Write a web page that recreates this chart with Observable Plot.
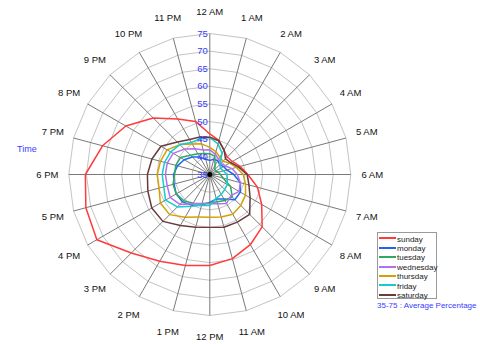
<!DOCTYPE html>
<html><head><meta charset="utf-8">
<script src="https://cdn.jsdelivr.net/npm/d3@7"></script>
<script src="https://cdn.jsdelivr.net/npm/@observablehq/plot@0.6"></script>
<style>
body{margin:0;background:#fff;font-family:"Liberation Sans",Arial,sans-serif}
#wrap{position:relative;width:480px;height:344px;overflow:hidden}
#wrap svg{position:absolute;left:0;top:0}
.lbl{position:absolute;color:#3b3bff;white-space:nowrap}
#legend{position:absolute;left:377px;top:232px;width:60px;height:67px;border:1px solid #9a9a9a;background:#fff;box-sizing:border-box}
.item{position:absolute;left:1px;height:9px;font-size:8px;line-height:9px;color:#222;white-space:nowrap}
.item span.sw{display:inline-block;width:17px;height:0;border-top:2px solid;vertical-align:middle;margin-right:1px;position:relative;top:-1px}
</style></head><body><div id="wrap"></div>
<script>
const hours = ["12 AM","1 AM","2 AM","3 AM","4 AM","5 AM","6 AM","7 AM","8 AM","9 AM","10 AM","11 AM",
               "12 PM","1 PM","2 PM","3 PM","4 PM","5 PM","6 PM","7 PM","8 PM","9 PM","10 PM","11 PM"];
const days = ["sunday","monday","tuesday","wednesday","thursday","friday","saturday"];
const colors = ["#ff3b3b","#1f66ee","#2fa866","#b070f0","#d4a008","#16cccc","#6b3a3a"];
const radialTicks = [35,40,45,50,55,60,65,70,75];

const sunday    = [46.5,45,43,42,42.4,43.9,45.8,49,52,56,58,59.7,60.8,61.7,63.4,66.5,72,71.4,70.3,66.5,62.5,57.7,53.2,50.6];
const monday    = [39,39.5,39.5,39,39.5,40,41.8,44,45,45.1,43,42.2,42.9,44,45.1,46,46,45.5,45.3,44.5,43.4,42,40.7,39.5];
const tuesday   = [40.9,40.4,38,37,37,37.5,38,38.9,41.8,44,43.5,43,43.1,43.5,44.4,45.5,46,45.8,45,45,44.6,42.7,41.8,41.2];
const wednesday = [42,41,40,39.5,40,41.5,42.8,44,44.6,43.5,44.5,43.6,43.3,43.6,44.6,47,48,47.5,47.6,47.5,47,45.2,43.4,42.2];
const thursday  = [42.7,41.7,40.7,40.3,41.5,42.8,44.5,45.5,46.7,47.4,48,47.5,47.1,47.5,49,51.1,51.2,49.9,49.9,49.5,49,47,45,44];
const friday    = [45.5,44,42,39,38.5,39,39.8,40.2,40.7,41,41.5,42,43.8,44,45.4,48,49.5,48.5,48.5,48.3,47.8,47,45.5,45.5];
const saturday  = [45.6,44.9,43.1,41.3,41.8,43.4,45.6,46.5,48.2,51,50.6,50.5,50,50.5,51.7,53.8,54,53.2,52.7,52,51,48,46.5,46];
const series = [sunday,monday,tuesday,wednesday,thursday,friday,saturday];

const rMin = 35, rMax = 75;
const W = 480, H = 344, cx = 209.3, cy = 174, k = 141 / (rMax - rMin);
const ang = i => i * 2 * Math.PI / hours.length;
const px = (v, i) => (v - rMin) * Math.sin(ang(i));
const py = (v, i) => (v - rMin) * Math.cos(ang(i));

const data = [];
days.forEach((d, j) => series[j].forEach((v, i) => data.push({day: d, x: px(v, i), y: py(v, i)})));

const rings = [];
radialTicks.slice(1).forEach(t => hours.forEach((h, i) => rings.push({t, x: px(t, i), y: py(t, i)})));
const spokes = hours.map((h, i) => ({h, x2: px(rMax, i), y2: py(rMax, i), lx: px(rMax + 6.1, i), ly: py(rMax + 6.1, i)}));

const chart = Plot.plot({
  width: W, height: H, margin: 0,
  style: {fontFamily: '"Liberation Sans",Arial,sans-serif', background: "transparent"},
  x: {domain: [-cx / k, (W - cx) / k], axis: null},
  y: {domain: [-(H - cy) / k, cy / k], axis: null},
  color: {domain: days, range: colors},
  marks: [
    Plot.line(rings, {x: "x", y: "y", z: "t", curve: "linear-closed", stroke: "#c4c4c4", strokeWidth: 1}),
    Plot.link(spokes, {x1: 0, y1: 0, x2: "x2", y2: "y2", stroke: "#7a7a7a", strokeWidth: 1}),
    Plot.text(spokes, {x: "lx", y: "ly", text: "h", fontSize: 9.5, fill: "#111"}),
    Plot.line(data, {x: "x", y: "y", z: "day", stroke: "day", curve: "linear-closed", strokeWidth: 1.5}),
    Plot.dot([0], {x: 0, y: 0, r: 2.5, fill: "#000"}),
    Plot.text(radialTicks, {x: 0, y: t => t - rMin, text: d => String(d), textAnchor: "end", dx: -2, fill: "#3b3bff", fontSize: 9.5})
  ]
});
const wrap = document.getElementById("wrap");
wrap.appendChild(chart);

const time = document.createElement("div");
time.className = "lbl"; time.textContent = "Time";
time.style.cssText = "left:17px;top:144px;font-size:9px";
wrap.appendChild(time);

const legend = document.createElement("div");
legend.id = "legend";
days.forEach((d, j) => {
  const it = document.createElement("div");
  it.className = "item";
  it.style.top = (1.5 + j * 9.4) + "px";
  it.innerHTML = `<span class="sw" style="border-color:${colors[j]}"></span>${d}`;
  legend.appendChild(it);
});
wrap.appendChild(legend);

const cap = document.createElement("div");
cap.className = "lbl"; cap.textContent = "35-75 : Average Percentage";
cap.style.cssText = "left:377px;top:301px;font-size:8px";
wrap.appendChild(cap);
</script></body></html>
